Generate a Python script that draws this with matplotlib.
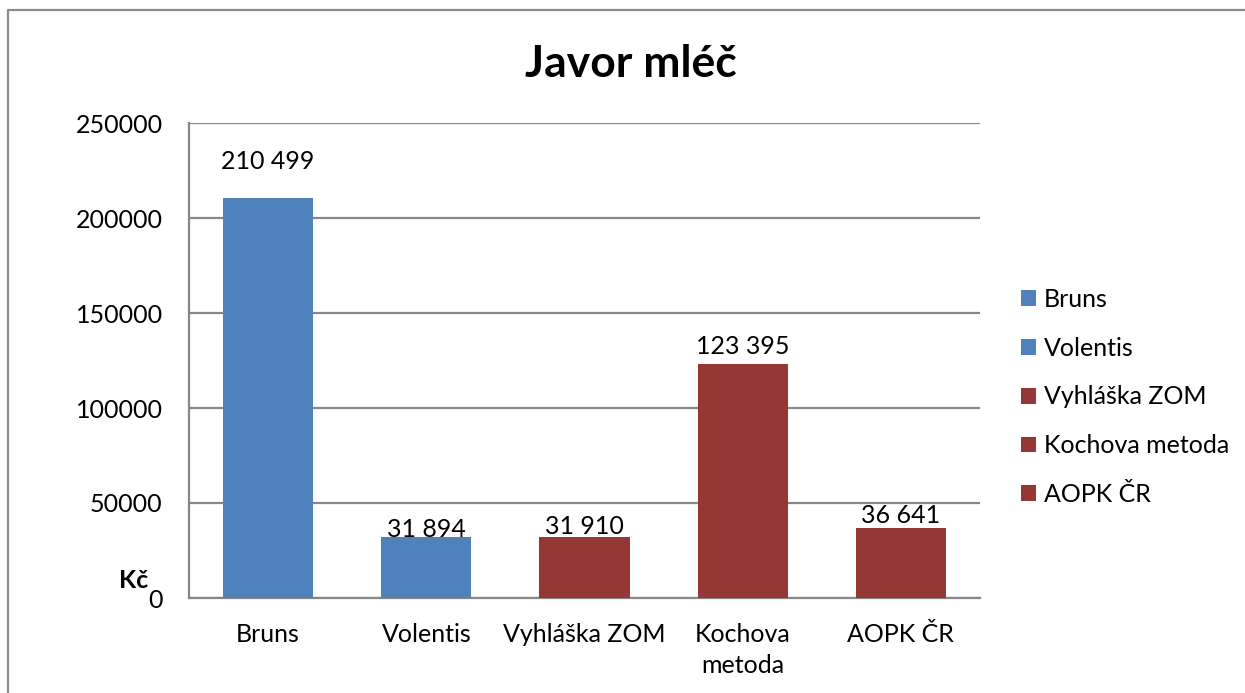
import matplotlib.pyplot as plt
from matplotlib.lines import Line2D

categories = ["Bruns", "Volentis", "Vyhláška ZOM", "Kochova metoda", "AOPK ČR"]
tick_labels = ["Bruns", "Volentis", "Vyhláška ZOM", "Kochova\nmetoda", "AOPK ČR"]
values = [210499, 31894, 31910, 123395, 36641]
value_labels = ["210 499", "31 894", "31 910", "123 395", "36 641"]

BLUE = "#4f81bd"
RED = "#953735"
colors = [BLUE, BLUE, RED, RED, RED]
# gap between bar top and label baseline, in pixels
label_gaps = [29, 0, 3, 10, 5]
GRID = "#878787"

plt.rcParams["font.family"] = ["Lato", "DejaVu Sans"]

fig = plt.figure(figsize=(12.45, 6.93), dpi=100)
W, H = 1245, 693
ax = fig.add_axes([189 / W, 1 - 598 / H, (980 - 189) / W, (598 - 123) / H])

for i, (cat, val, col) in enumerate(zip(categories, values, colors)):
    ax.bar(i, val, width=0.57, color=col, label=cat, zorder=3)
    ax.annotate(value_labels[i], (i, val), xytext=(0, label_gaps[i]),
                textcoords="offset pixels", ha="center", va="baseline",
                fontsize=18, zorder=4)

ax.set_xlim(-0.5, len(categories) - 0.5)
ax.set_ylim(0, 250000)
ax.set_yticks(range(0, 250001, 50000))
ax.set_yticklabels([str(v) for v in range(0, 250001, 50000)])
ax.yaxis.grid(True, color=GRID, linewidth=1.6, zorder=0)
ax.set_xticks(range(len(categories)))
ax.set_xticklabels(tick_labels, linespacing=1.4)
ax.tick_params(axis="x", length=0, pad=18, labelsize=18)
ax.tick_params(axis="y", length=0, pad=19, labelsize=18)

for side in ["top", "right"]:
    ax.spines[side].set_visible(False)
for side in ["left", "bottom"]:
    ax.spines[side].set_color(GRID)
    ax.spines[side].set_linewidth(1.6)

fig.text(134 / W, 1 - 580 / H, "Kč", ha="center", va="center",
         fontsize=18, fontweight="bold")
fig.text(631 / W, 1 - 77 / H, "Javor mléč", ha="center", va="baseline",
         fontsize=32, fontweight="bold")

ax.legend(loc="upper left", bbox_to_anchor=(1021 / W, 1 - 288 / H),
          bbox_transform=fig.transFigure, frameon=False, fontsize=18,
          handlelength=0.6, handleheight=0.6, handletextpad=0.3,
          labelspacing=1.03, borderpad=0, borderaxespad=0)

# chart frame (only top and left edges visible)
fig.add_artist(Line2D([8 / W, 8 / W, 1.0], [0, 1 - 10 / H, 1 - 10 / H],
                      transform=fig.transFigure, color="#8c8c8c", linewidth=1.6))

fig.savefig("out.png", dpi=100)
